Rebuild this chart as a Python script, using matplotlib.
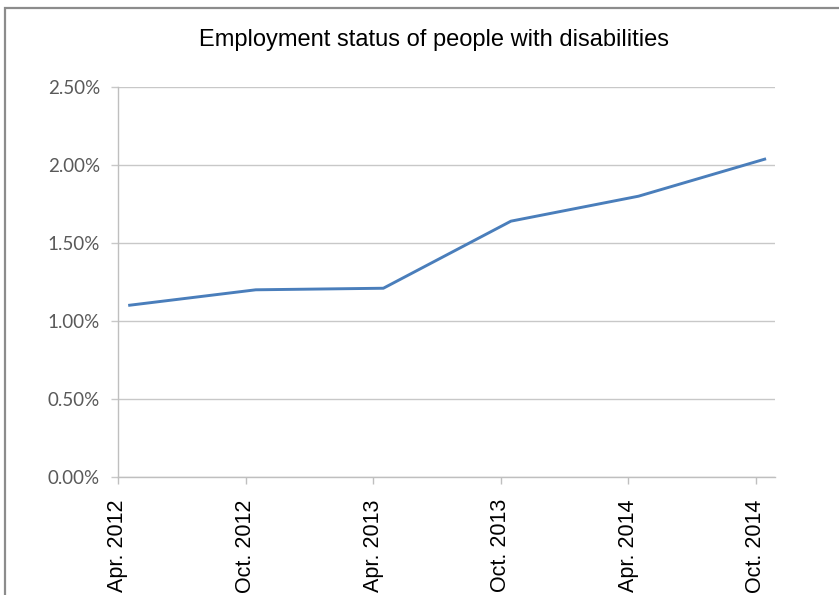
import matplotlib
matplotlib.use('Agg')
import matplotlib.pyplot as plt
from matplotlib.patches import Rectangle
import numpy as np

# survey dates and share of people with disabilities in employment (%)
periods = ['Apr. 2012', 'Oct. 2012', 'Apr. 2013', 'Oct. 2013', 'Apr. 2014', 'Oct. 2014']
rates = [1.10, 1.20, 1.21, 1.64, 1.80, 2.04]
yticks = [0.0, 0.5, 1.0, 1.5, 2.0, 2.5]

fig = plt.figure(figsize=(8.39, 5.95), dpi=100)

# outer chart border (cut off at right and bottom like a screenshot)
fig.patches.append(Rectangle((5/839, -0.1), 1.2, 1.1 - 8/595, transform=fig.transFigure,
                             fill=False, edgecolor='#8c8c8c', linewidth=1.6))

ax = fig.add_axes([118/839, 1 - 477/595, (775 - 118)/839, (477 - 87)/595])

x = np.arange(len(periods))
ax.plot(x, rates, color='#4a7ebb', linewidth=2.1, solid_capstyle='butt')

# Excel draws the category ticks slightly left of the points
off = 0.08
ax.set_xticks(x - off)
ax.set_xticklabels(periods, rotation=90, fontfamily='Liberation Sans', fontsize=15.5, color='black')
ax.set_xlim(-off, 5.07)

ax.set_yticks(yticks)
ax.set_yticklabels(['%.2f%%' % v for v in yticks], fontfamily='Lato', fontsize=13.5, color='#595959')
ax.set_ylim(0, 2.5)

ax.grid(axis='y', color='#c8c8c8', linewidth=1)
ax.set_axisbelow(True)
for s in ['top', 'right']:
    ax.spines[s].set_visible(False)
for s in ['left', 'bottom']:
    ax.spines[s].set_color('#bfbfbf')
    ax.spines[s].set_linewidth(1)

ax.tick_params(axis='x', length=5, width=1, color='#bfbfbf', pad=11)
ax.tick_params(axis='y', length=5, width=1, color='#c8c8c8', pad=8)

fig.text(434/839, 1 - 40/595, 'Employment status of people with disabilities',
         ha='center', va='center', fontfamily='Liberation Sans', fontsize=17)

fig.savefig('out.png', dpi=100)
